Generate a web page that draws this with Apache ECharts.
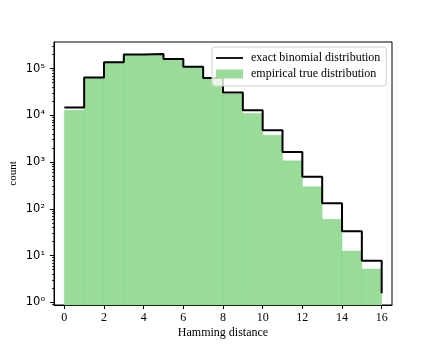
<!DOCTYPE html>
<html>
<head>
<meta charset="utf-8">
<script src="https://cdn.jsdelivr.net/npm/echarts@6/dist/echarts.min.js"></script>
<style>
html,body{margin:0;padding:0;background:#fff;}
#chart{width:436px;height:349px;}
</style>
</head>
<body>
<div id="chart"></div>
<script>
// Hamming distance values (bin edges 0..16)
const distances = [0,1,2,3,4,5,6,7,8,9,10,11,12,13,14,15,16];
// exact binomial distribution (value at each distance, step "post")
const exactCounts = [14700, 64200, 136000, 199000, 205000, 160000, 110000, 63000, 30700, 12800, 4800, 1650, 483, 132, 32.9, 7.74, 1.56];
// empirical histogram counts for bins [0,1),[1,2),...,[15,16]
const empiricalCounts = [12800, 63000, 134000, 196000, 202000, 157000, 108000, 61000, 28500, 10900, 3760, 1060, 295, 59.4, 12.5, 5.15];
// tick labels
const xTicks = [0,2,4,6,8,10,12,14,16];
const yTicks = [1,10,100,1000,10000,100000];
const yTickLabels = ['10⁰','10¹','10²','10³','10⁴','10⁵'];
const yMinorTicks = [];
for (let k = -1; k <= 5; k++) {
  for (let m = 2; m <= 9; m++) {
    const v = m * Math.pow(10, k);
    if (v > 0.875 && v < 370000) yMinorTicks.push(v);
  }
}

const barData = empiricalCounts.map((v, i) => [distances[i], distances[i + 1], v]);
const lineData = exactCounts.map((v, i) => [distances[i], v]);

const serif = 'Liberation Serif';
const chart = echarts.init(document.getElementById('chart'), null, {renderer: 'canvas'});
const yCommon = {
  type: 'log', logBase: 10, min: 0.875, max: 370000,
  splitLine: {show: false}
};
chart.setOption({
  backgroundColor: '#ffffff',
  animation: false,
  grid: {left: 54, right: 44, top: 42, bottom: 44, show: true, borderColor: '#000', borderWidth: 1,
         backgroundColor: 'transparent', containLabel: false, outerBoundsMode: 'none'},
  legend: {
    orient: 'vertical', left: 212, top: 47,
    padding: [5, 6, 6, 4], itemWidth: 27, itemHeight: 9, itemGap: 4,
    backgroundColor: 'rgba(255,255,255,0.8)', borderColor: '#d0d0d0', borderWidth: 1, borderRadius: 3,
    textStyle: {fontFamily: serif, fontSize: 12, color: '#000', padding: [0, 0, 0, 3]},
    data: [
      {name: 'exact binomial distribution', icon: 'path://M0,0M0,3.6H27V5.4H0ZM27,9', itemStyle: {color: '#000'}},
      {name: 'empirical true distribution', icon: 'rect'}
    ]
  },
  xAxis: {
    type: 'value', min: -0.52, max: 16.52,
    name: 'Hamming distance', nameLocation: 'middle', nameGap: 22, nameMoveOverlap: false,
    nameTextStyle: {fontFamily: serif, fontSize: 12, color: '#000'},
    axisLine: {show: true, onZero: false, lineStyle: {color: '#000', width: 1}},
    axisTick: {show: true, inside: false, length: 4, customValues: xTicks, lineStyle: {color: '#000'}},
    axisLabel: {show: true, customValues: xTicks, fontFamily: serif, fontSize: 12, color: '#000', margin: 7},
    splitLine: {show: false}
  },
  yAxis: [
    Object.assign({}, yCommon, {
      name: 'count', nameLocation: 'middle', nameGap: 35, nameMoveOverlap: false,
      nameTextStyle: {fontFamily: serif, fontSize: 11, color: '#000'},
      axisLine: {show: true, onZero: false, lineStyle: {color: '#000', width: 1}},
      axisTick: {show: true, inside: false, length: 4, customValues: yTicks, lineStyle: {color: '#000'}},
      axisLabel: {show: true, customValues: yTicks, fontFamily: 'DejaVu Sans', fontSize: 11.5, color: '#000', margin: 9,
        formatter: function (v) { const i = yTicks.indexOf(v); return i >= 0 ? yTickLabels[i] : ''; }}
    }),
    Object.assign({}, yCommon, {
      position: 'left',
      axisLine: {show: false, onZero: false},
      axisTick: {show: true, inside: false, length: 2, customValues: yMinorTicks, lineStyle: {color: '#000', width: 0.8}},
      axisLabel: {show: false}
    })
  ],
  series: [
    {
      name: 'empirical true distribution', type: 'custom', xAxisIndex: 0, yAxisIndex: 0,
      itemStyle: {color: '#98dc98'},
      encode: {x: [0, 1], y: 2},
      data: barData,
      z: 1,
      renderItem: function (params, api) {
        const p0 = api.coord([api.value(0), api.value(2)]);
        const p1 = api.coord([api.value(1), api.value(2)]);
        const bottom = params.coordSys.y + params.coordSys.height;
        return {
          type: 'rect',
          shape: {x: p0[0], y: p0[1], width: p1[0] - p0[0], height: bottom - p0[1]},
          style: {fill: '#98dc98', stroke: 'rgba(130,205,130,0.6)', lineWidth: 0.6}
        };
      }
    },
    {
      name: 'exact binomial distribution', type: 'line', step: 'end',
      xAxisIndex: 0, yAxisIndex: 0,
      data: lineData, symbol: 'none', z: 3,
      itemStyle: {color: '#000'},
      lineStyle: {color: '#000', width: 2}
    }
  ]
});
</script>
</body>
</html>
